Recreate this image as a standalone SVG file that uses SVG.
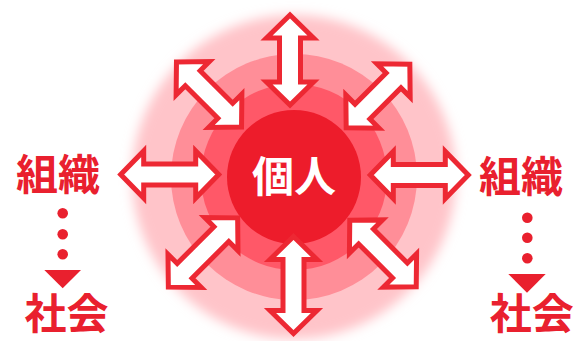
<svg xmlns="http://www.w3.org/2000/svg" width="573" height="341" viewBox="0 0 573 341">
<defs>
<filter id="blur" x="-20%" y="-20%" width="140%" height="140%"><feGaussianBlur stdDeviation="6"/></filter>
<style>
.arr{fill:#ffffff;stroke:#ed2833;stroke-width:5;stroke-linejoin:miter;stroke-miterlimit:10}
.lbl{font-family:"Noto Sans CJK JP","Noto Sans CJK SC",sans-serif;font-weight:700;font-size:42px;text-anchor:middle}
.red{fill:#e9202e}
.dot{fill:#e9202e}
</style>
</defs>
<rect width="573" height="341" fill="#ffffff"/>
<g id="background">
<circle cx="294" cy="177" r="162" fill="#ffc4c9" filter="url(#blur)"/>
<circle cx="294" cy="177" r="123" fill="#ff8e98"/>
<circle cx="294" cy="177" r="93" fill="#ff5868"/>
</g>
<g id="node-individual">
<circle cx="294" cy="177" r="67" fill="#ed1c2b"/>
</g>
<g id="connectors">
<polygon class="arr" transform="translate(290,60) rotate(90)" points="-45,0 -22,-23.5 -22,-10.5 22,-10.5 22,-23.5 45,0 22,23.5 22,10.5 -22,10.5 -22,23.5"/>
<polygon class="arr" transform="translate(293.5,285) rotate(90)" points="-48.5,0 -25.5,-23.5 -25.5,-10.5 25.5,-10.5 25.5,-23.5 48.5,0 25.5,23.5 25.5,10.5 -25.5,10.5 -25.5,23.5"/>
<polygon class="arr" transform="translate(169.7,174.5)" points="-49,0 -26,-23.5 -26,-10.5 26,-10.5 26,-23.5 49,0 26,23.5 26,10.5 -26,10.5 -26,23.5"/>
<polygon class="arr" transform="translate(419.3,175)" points="-49,0 -26,-23.5 -26,-10.5 26,-10.5 26,-23.5 49,0 26,23.5 26,10.5 -26,10.5 -26,23.5"/>
<polygon class="arr" transform="translate(209,94.5) rotate(45)" points="-46,0 -23,-23.5 -23,-10.5 23,-10.5 23,-23.5 46,0 23,23.5 23,10.5 -23,10.5 -23,23.5"/>
<polygon class="arr" transform="translate(378,96) rotate(-45)" points="-45,0 -22,-23.5 -22,-10.5 22,-10.5 22,-23.5 45,0 22,23.5 22,10.5 -22,10.5 -22,23.5"/>
<polygon class="arr" transform="translate(203,252.5) rotate(-45)" points="-49,0 -26,-23.5 -26,-10.5 26,-10.5 26,-23.5 49,0 26,23.5 26,10.5 -26,10.5 -26,23.5"/>
<polygon class="arr" transform="translate(383,253.5) rotate(45)" points="-47,0 -24,-23.5 -24,-10.5 24,-10.5 24,-23.5 47,0 24,23.5 24,10.5 -24,10.5 -24,23.5"/>
</g>
<g id="label-individual">
<text class="lbl" x="294" y="192" fill="#ffffff">個人</text>
</g>
<g id="node-left">
<text class="lbl red" x="58" y="190">組織</text>
<circle class="dot" cx="62.7" cy="213.3" r="5.3"/>
<circle class="dot" cx="62.7" cy="234.3" r="5.3"/>
<circle class="dot" cx="62.7" cy="254.3" r="5.3"/>
<polygon class="dot" points="44.3,270 81,270 62.7,288.3"/>
<text class="lbl red" x="66.5" y="329">社会</text>
</g>
<g id="node-right">
<text class="lbl red" x="521" y="192">組織</text>
<circle class="dot" cx="527.3" cy="217.7" r="5.3"/>
<circle class="dot" cx="527.3" cy="237.7" r="5.3"/>
<circle class="dot" cx="527.3" cy="258.3" r="5.3"/>
<polygon class="dot" points="508.3,274 545.7,274 527,292.7"/>
<text class="lbl red" x="531.7" y="329">社会</text>
</g>
</svg>
